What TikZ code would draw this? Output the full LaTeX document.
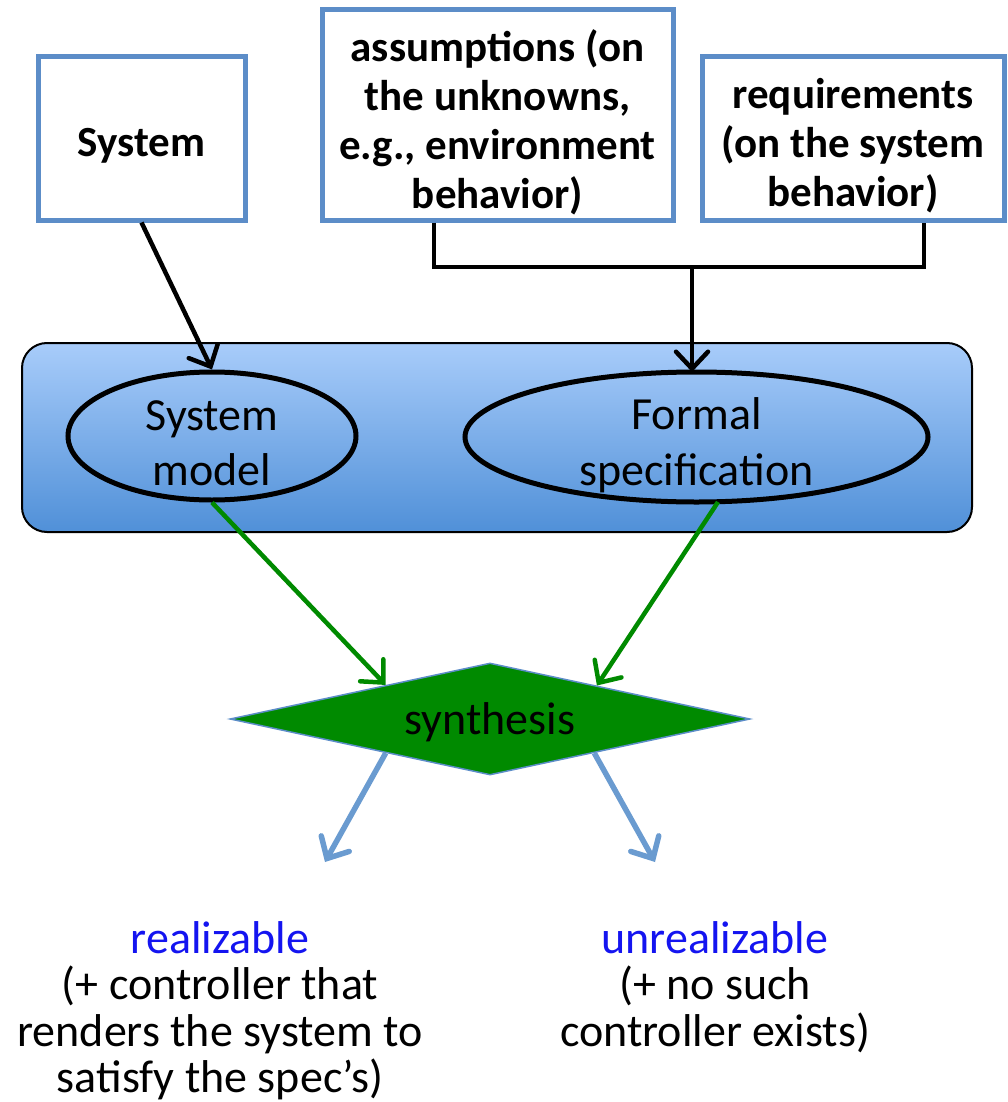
\documentclass[tikz,border=0pt]{standalone}
\usepackage{fontspec}
\setmainfont{Carlito}
\usetikzlibrary{arrows.meta,shapes.geometric,calc}
\definecolor{boxblue}{RGB}{92,141,200}
\definecolor{arrowblue}{RGB}{106,155,208}
\definecolor{synthgreen}{RGB}{0,138,0}
\definecolor{paneltop}{RGB}{168,204,250}
\definecolor{panelbot}{RGB}{80,144,216}
\definecolor{outblue}{RGB}{20,20,240}
\tikzset{
  inbox/.style={draw=boxblue, line width=5pt, fill=white, inner sep=0pt},
  boxtext/.style={align=center, inner sep=0pt, font=\fontsize{43}{49}\selectfont\bfseries},
  modelnode/.style={ellipse, draw=black, line width=5pt, inner sep=0pt},
  modeltext/.style={align=center, inner sep=0pt, font=\fontsize{46}{55.5}\selectfont},
  barb/.style={-{Straight Barb[length=17pt,width=32pt,line cap=round]}},
  feed/.style={barb, draw=black, line width=4.5pt},
  flow/.style={barb, draw=synthgreen, line width=4.5pt},
  outcome/.style={barb, draw=arrowblue, line width=5.5pt},
  result/.style={align=center, inner sep=0pt, font=\fontsize{46}{46.5}\selectfont}
}
\begin{document}
\begin{tikzpicture}[x=1pt,y=-1pt]
\useasboundingbox (0,0) rectangle (1008,1102);

% input boxes
\node[inbox, minimum width=207pt, minimum height=163pt] (sys) at (141.5,138.5) {};
\node[boxtext] (systext) at ($(sys.center)+(0,7)$) {System};
\node[inbox, minimum width=351pt, minimum height=210pt] (asm) at (497.5,115) {};
\node[boxtext] (asmtext) at ($(asm.center)+(0,7)$)
  {assumptions (on\\the unknowns,\\e.g., environment\\behavior)};
\node[inbox, minimum width=302pt, minimum height=163pt] (req) at (853,138.5) {};
\node[boxtext] (reqtext) at ($(req.center)+(0,7)$)
  {requirements\\(on the system\\behavior)};

% shaded panel holding the two models
\node[draw=black, line width=2pt, rounded corners=25pt, top color=paneltop,
  bottom color=panelbot, minimum width=950pt, minimum height=189pt, inner sep=0pt]
  (panel) at (497,437.5) {};
\node[modelnode, minimum width=288pt, minimum height=128pt] (smodel) at (212,436) {};
\node[modeltext] (smodeltext) at ($(smodel.center)+(0,7)$) {System\\model};
\node[modelnode, minimum width=463pt, minimum height=130pt] (fspec) at (696.5,437) {};
\node[modeltext] (fspectext) at ($(fspec.center)+(0,8)$) {Formal\\specification};

% synthesis step
\node[diamond, aspect=4.64, fill=synthgreen, draw=boxblue, line width=1.5pt, inner sep=0pt,
  minimum width=520pt, minimum height=112pt, font=\fontsize{46}{55}\selectfont]
  (synth) at (490,719) {};
\node[inner sep=0pt, font=\fontsize{46}{55}\selectfont] (synthtext) at ($(synth.center)+(0,3)$) {synthesis};

% feeding the models
\draw[feed] (sys.south) -- (smodel.north);
\coordinate (jl) at (434,267);
\coordinate (jr) at (924,267);
\draw[black, line width=4.5pt] (jl |- asm.south) -- (jl) -- (jr) -- (jr |- req.south);
\draw[feed] (692,267) -- (692,372);

% into synthesis
\draw[flow] (smodel.south) -- ($(synth.north)!0.4!(synth.west)$);
\draw[flow] (718,502) -- ($(synth.north)!0.41!(synth.east)$);

% outcomes
\coordinate (lend) at (325,862);
\coordinate (rend) at (655,862);
\draw[outcome] ($(synth.south)!0.4!(synth.west)$) -- (lend);
\draw[outcome] ($(synth.south)!0.4!(synth.east)$) -- (rend);

\node[result, anchor=north] (real) at (220,921)
  {\textcolor{outblue}{realizable}\\(+ controller that\\renders the system to\\satisfy the spec’s)};
\node[result, anchor=north] (unreal) at (715,921)
  {\textcolor{outblue}{unrealizable}\\(+ no such\\controller exists)};
\end{tikzpicture}
\end{document}
